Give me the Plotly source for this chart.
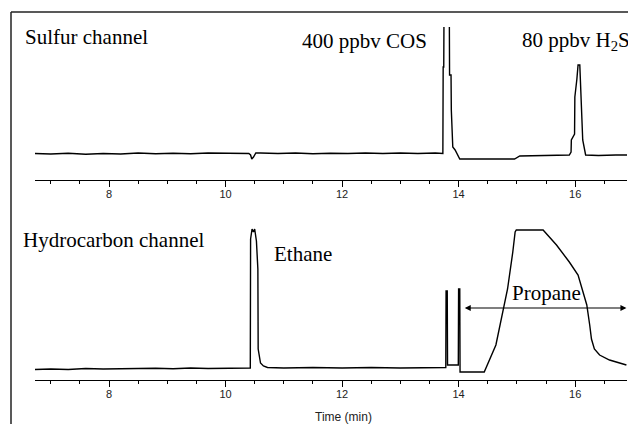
import plotly.graph_objects as go

OFF = 8  # page body margin in the browser
W, H = 636 - OFF, 424 - OFF

# ---------------- data (time in min, detector signal in arbitrary units) ----------------
sulfur_t = [6.73, 7.0, 7.3, 7.6, 7.9, 8.2, 8.5, 8.8, 9.1, 9.4, 9.7, 10.0, 10.2, 10.40,
            10.43, 10.45, 10.48, 10.52, 10.6, 10.9, 11.2, 11.5, 11.8, 12.1, 12.4, 12.7,
            13.0, 13.3, 13.6, 13.73, 13.735, 13.745, 13.75, 13.84, 13.845, 13.87, 13.875,
            13.9, 13.94, 14.0, 14.02, 14.5, 14.96, 15.05, 15.3, 15.6, 15.9, 15.93, 15.935,
            15.99, 15.995, 16.03, 16.05, 16.08, 16.1, 16.13, 16.18, 16.4, 16.7, 16.89]
sulfur_v = [0.5, 0.0, 0.8, -0.3, 0.5, 0.0, 1.0, 0.3, 0.8, 0.2, 1.0, 0.5, 0.8, 0.5,
            -1.0, -5.0, -3.0, 1.0, 1.0, 0.5, 1.0, 0.3, 0.8, 0.5, 1.0, 0.5,
            1.0, 0.5, 1.0, 0.5, 87.0, 87.0, 150.0, 150.0, 79.0, 79.0, 44.0,
            7.0, 4.0, -4.0, -5.0, -5.0, -5.0, -2.0, -1.5, -1.0, -1.0, 2.0, 14.0,
            20.0, 57.0, 75.0, 89.0, 89.0, 54.0, 14.0, -1.0, -1.5, -1.0, -1.0]

hydro_t = [6.73, 7.0, 7.3, 7.6, 7.9, 8.2, 8.5, 8.8, 9.1, 9.4, 9.7, 10.0, 10.2, 10.425,
           10.43, 10.455, 10.48, 10.5, 10.53, 10.555, 10.56, 10.6, 10.65, 10.72, 11.0,
           11.5, 12.0, 12.5, 13.0, 13.5, 13.78, 13.785, 13.805, 13.81, 13.9, 13.995,
           14.0, 14.02, 14.025, 14.44, 14.64, 14.76, 14.84, 14.93, 14.97, 14.99, 15.45,
           15.68, 15.9, 16.05, 16.13, 16.2, 16.25, 16.28, 16.33, 16.42, 16.59, 16.88]
hydro_v = [-0.5, 0.0, -0.5, 0.5, 0.0, 0.3, 0.0, 0.8, 0.3, 1.0, 0.5, 1.0, 0.8, 1.0,
           130.0, 140.0, 137.0, 140.0, 128.0, 100.0, 20.0, 6.0, 3.0, 1.5, 1.0,
           1.5, 1.0, 1.5, 1.0, 1.5, 1.5, 78.0, 78.0, 4.0, 4.0, 4.0,
           80.0, 80.0, -3.0, -3.0, 24.0, 57.0, 80.0, 117.0, 137.0, 139.0, 139.0,
           124.0, 107.0, 94.0, 77.0, 64.0, 44.0, 30.0, 20.0, 14.0, 9.0, 4.0]

x_range = [6.73, 16.89]
major_ticks = [8, 10, 12, 14, 16]
propane_span = [14.08, 16.88]
propane_level = 61.0


def px_x(p):
    return (p - OFF) / W


def px_y(p):
    return 1 - (p - OFF) / H


fig = go.Figure()
fig.add_trace(go.Scatter(x=sulfur_t, y=sulfur_v, mode="lines",
                         line=dict(color="black", width=1.4),
                         xaxis="x", yaxis="y", showlegend=False, hoverinfo="skip"))
fig.add_trace(go.Scatter(x=hydro_t, y=hydro_v, mode="lines",
                         line=dict(color="black", width=1.4),
                         xaxis="x2", yaxis="y2", showlegend=False, hoverinfo="skip"))

xdom = [px_x(35), px_x(627)]
axis_common = dict(
    domain=xdom, range=x_range, tickmode="array", tickvals=major_ticks,
    ticks="outside", ticklen=6, tickwidth=1.3, tickcolor="black",
    showline=True, linecolor="black", linewidth=1.3, showgrid=False, zeroline=False,
    tickfont=dict(family="Liberation Sans, Arial, sans-serif", size=11, color="#222"),
    ticklabelstandoff=-2,
    minor=dict(tickmode="linear", tick0=0, dtick=0.5, ticks="outside", ticklen=3,
               tickwidth=1, tickcolor="black", showgrid=False),
    fixedrange=True,
)
fig.update_layout(
    width=W, height=H,
    margin=dict(l=0, r=0, t=0, b=0),
    paper_bgcolor="white", plot_bgcolor="white",
    xaxis=dict(anchor="y", **axis_common),
    xaxis2=dict(anchor="y2", **axis_common),
    yaxis=dict(domain=[px_y(180), px_y(27)], range=[-26, 127], visible=False),
    yaxis2=dict(domain=[px_y(380), px_y(222)], range=[-11, 147], visible=False),
)

serif = dict(family="Liberation Serif, Times New Roman, serif", size=21, color="black")
labels = [
    ("Sulfur channel", 23, 37),
    ("400 ppbv COS", 300, 41),
    ("80 ppbv H<sub>2</sub>S", 520, 41),
    ("Hydrocarbon channel", 21, 240),
    ("Ethane", 272, 254),
]
for txt, lx, ly in labels:
    fig.add_annotation(text=txt, x=px_x(lx), y=px_y(ly), xref="paper", yref="paper",
                       xanchor="left", yanchor="middle", showarrow=False, font=serif)

fig.add_annotation(text="Propane", x=sum(propane_span) / 2 + 0.03, y=propane_level,
                   xref="x2", yref="y2", yshift=15, xanchor="center", yanchor="middle",
                   showarrow=False, font=serif)
fig.add_annotation(text="", x=propane_span[1], y=propane_level, ax=propane_span[0],
                   ay=propane_level, xref="x2", yref="y2", axref="x2", ayref="y2",
                   showarrow=True, arrowhead=2, startarrowhead=2, arrowside="end+start",
                   arrowsize=1, arrowwidth=1.2, arrowcolor="black", standoff=0, startstandoff=0)

fig.add_annotation(text="Time (min)", x=px_x(343), y=px_y(417), xref="paper", yref="paper",
                   xanchor="center", yanchor="middle", showarrow=False,
                   font=dict(family="Liberation Sans, Arial, sans-serif", size=12, color="#222"))

# frame (top and left edges)
fig.add_shape(type="line", xref="paper", yref="paper", x0=px_x(11), x1=1, y0=px_y(12), y1=px_y(12),
              line=dict(color="#222", width=1.5))
fig.add_shape(type="line", xref="paper", yref="paper", x0=px_x(11), x1=px_x(11), y0=px_y(12), y1=0,
              line=dict(color="#222", width=1.5))

fig.write_html("out.html")
